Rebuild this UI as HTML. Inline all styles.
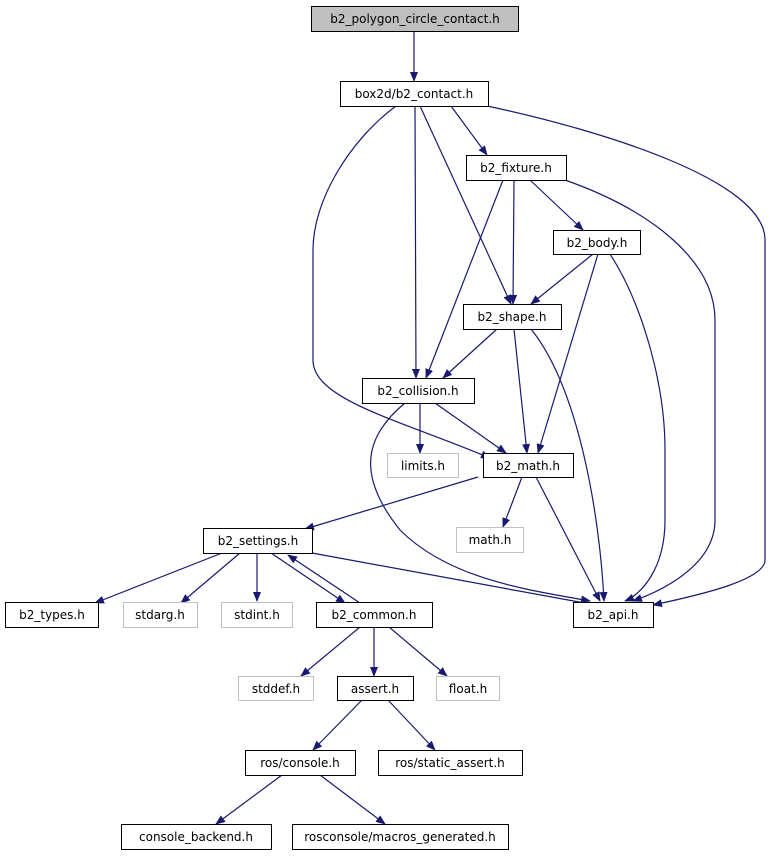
<!DOCTYPE html>
<html><head><meta charset="utf-8"><style>
html,body{margin:0;padding:0;background:#fff;}
svg text{font-family:"DejaVu Sans","Liberation Sans",sans-serif;font-size:12px;text-anchor:middle;fill:#000;}
</style></head><body>
<svg width="771" height="859" viewBox="0 0 771 859" xmlns="http://www.w3.org/2000/svg">
<defs><marker id="a" markerWidth="10" markerHeight="8" refX="9" refY="4" orient="auto" markerUnits="userSpaceOnUse"><path d="M0,0 L10,4 L0,8 z" fill="#191970"/></marker></defs>
<g fill="none" stroke="#191970" stroke-width="1.2" marker-end="url(#a)">
<path d="M414,31 L414,81"/>
<path d="M451,106 L487,155"/>
<path d="M487,106 C600,130 765,180 765,240 L765,560 C765,580 700,595 653,605"/>
<path d="M415,106 L416,378"/>
<path d="M420,106 L511,304"/>
<path d="M396,106 C350,140 313,200 313,250 L313,360 C313,400 400,420 490,458"/>
<path d="M530,180 L583,230"/>
<path d="M514,180 L513,304"/>
<path d="M503,180 L426,378"/>
<path d="M565,180 C650,210 715,260 715,320 L715,520 C715,570 650,595 633,601"/>
<path d="M593,254 L531,304"/>
<path d="M598,254 L538,453"/>
<path d="M610,254 C640,300 665,380 665,450 L665,520 C665,570 640,595 625,601"/>
<path d="M497,329 L443,378"/>
<path d="M514,329 L527,453"/>
<path d="M531,329 C580,390 600,520 604,601"/>
<path d="M435,403 L506,453"/>
<path d="M420,403 L420,453"/>
<path d="M405,403 C360,440 360,480 400,530 C450,580 530,590 590,601"/>
<path d="M478,477 L305,529"/>
<path d="M522,477 L503,527"/>
<path d="M536,477 L600,601"/>
<path d="M222,553 L95,603"/>
<path d="M240,553 L181,603"/>
<path d="M257,553 L257,601"/>
<path d="M271,553 L345,603"/>
<path d="M312,553 L590,604"/>
<path d="M360,603 L288,555"/>
<path d="M360,627 L301,676"/>
<path d="M374,627 L374,676"/>
<path d="M389,627 L447,676"/>
<path d="M362,700 L313,750"/>
<path d="M388,700 L435,750"/>
<path d="M282,775 L216,824"/>
<path d="M320,775 L385,824"/>
</g>
<g stroke-width="1" shape-rendering="crispEdges">
<rect x="311.5" y="6.5" width="207" height="25" fill="#bfbfbf" stroke="#000"/>
<rect x="340.5" y="81.5" width="148" height="25" fill="#fff" stroke="#000"/>
<rect x="466.5" y="155.5" width="100" height="25" fill="#fff" stroke="#000"/>
<rect x="553.5" y="230.5" width="87" height="24" fill="#fff" stroke="#000"/>
<rect x="463.5" y="304.5" width="98" height="25" fill="#fff" stroke="#000"/>
<rect x="362.5" y="378.5" width="112" height="25" fill="#fff" stroke="#000"/>
<rect x="387.5" y="453.5" width="71" height="24" fill="#fff" stroke="#bfbfbf"/>
<rect x="483.5" y="453.5" width="90" height="24" fill="#fff" stroke="#000"/>
<rect x="456.5" y="527.5" width="67" height="25" fill="#fff" stroke="#bfbfbf"/>
<rect x="203.5" y="528.5" width="109" height="25" fill="#fff" stroke="#000"/>
<rect x="5.5" y="602.5" width="93" height="25" fill="#fff" stroke="#000"/>
<rect x="123.5" y="602.5" width="74" height="25" fill="#fff" stroke="#bfbfbf"/>
<rect x="221.5" y="602.5" width="71" height="25" fill="#fff" stroke="#bfbfbf"/>
<rect x="316.5" y="602.5" width="116" height="25" fill="#fff" stroke="#000"/>
<rect x="573.5" y="602.5" width="80" height="25" fill="#fff" stroke="#000"/>
<rect x="238.5" y="676.5" width="75" height="24" fill="#fff" stroke="#bfbfbf"/>
<rect x="337.5" y="676.5" width="76" height="24" fill="#fff" stroke="#000"/>
<rect x="436.5" y="676.5" width="63" height="24" fill="#fff" stroke="#bfbfbf"/>
<rect x="245.5" y="750.5" width="110" height="25" fill="#fff" stroke="#000"/>
<rect x="378.5" y="750.5" width="144" height="25" fill="#fff" stroke="#000"/>
<rect x="121.5" y="824.5" width="150" height="25" fill="#fff" stroke="#000"/>
<rect x="292.5" y="824.5" width="216" height="25" fill="#fff" stroke="#000"/>
</g>
<text x="415" y="23">b2_polygon_circle_contact.h</text>
<text x="414" y="98">box2d/b2_contact.h</text>
<text x="516" y="172">b2_fixture.h</text>
<text x="597" y="247">b2_body.h</text>
<text x="512" y="321">b2_shape.h</text>
<text x="418" y="395">b2_collision.h</text>
<text x="423" y="470">limits.h</text>
<text x="528" y="470">b2_math.h</text>
<text x="490" y="544">math.h</text>
<text x="258" y="545">b2_settings.h</text>
<text x="52" y="619">b2_types.h</text>
<text x="160" y="619">stdarg.h</text>
<text x="257" y="619">stdint.h</text>
<text x="374" y="619">b2_common.h</text>
<text x="613" y="619">b2_api.h</text>
<text x="276" y="693">stddef.h</text>
<text x="375" y="693">assert.h</text>
<text x="468" y="693">float.h</text>
<text x="300" y="767">ros/console.h</text>
<text x="450" y="767">ros/static_assert.h</text>
<text x="196" y="841">console_backend.h</text>
<text x="400" y="841">rosconsole/macros_generated.h</text>
</svg>
</body></html>
